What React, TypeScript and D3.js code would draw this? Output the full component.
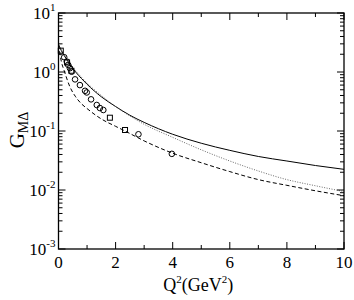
import React from "react";
import * as d3 from "d3";

const solidQ = [0, 0.1, 0.2, 0.4, 0.6, 0.8, 1.0, 1.5, 2, 2.5, 3, 4, 5, 6, 7, 8, 9, 10];
const solidG = [2.9, 2.3, 1.9, 1.35, 1.0, 0.78, 0.62, 0.38, 0.26, 0.185, 0.14, 0.088, 0.062, 0.047, 0.037, 0.031, 0.026, 0.0224];
const dottedQ = [0, 0.2, 0.4, 0.6, 0.8, 1.0, 1.5, 2, 2.5, 3, 4, 5, 6, 7, 8, 9, 10];
const dottedG = [2.9, 1.95, 1.4, 1.05, 0.82, 0.65, 0.4, 0.26, 0.18, 0.13, 0.078, 0.048, 0.031, 0.021, 0.015, 0.0118, 0.0094];
const dashedQ = [0, 0.1, 0.2, 0.4, 0.6, 0.8, 1.0, 1.5, 2, 2.33, 3, 4, 5, 6, 7, 8, 9, 10];
const dashedG = [2.9, 1.5, 1.05, 0.56, 0.38, 0.29, 0.24, 0.16, 0.12, 0.1, 0.068, 0.042, 0.029, 0.0205, 0.015, 0.012, 0.0097, 0.008];

const circleQ = [0.2, 0.29, 0.34, 0.4, 0.46, 0.58, 0.75, 0.93, 0.99, 1.14, 1.34, 1.45, 1.57, 2.8, 3.97];
const circleG = [1.78, 1.5, 1.32, 1.16, 1.01, 0.75, 0.6, 0.48, 0.45, 0.344, 0.276, 0.245, 0.227, 0.088, 0.041];
const squareQ = [0.08, 0.3, 0.45, 1.8, 2.33];
const squareG = [2.3, 1.45, 1.05, 0.168, 0.104];

const xTicks = [0, 2, 4, 6, 8, 10];
const yExps = [1, 0, -1, -2, -3];

const W = 354, H = 300;
const L = 58.5, R = 344, T = 13, B = 249;
const font = "Liberation Serif, Times New Roman, DejaVu Serif, serif";

export default function App() {
  const x = d3.scaleLinear().domain([0, 10]).range([L, R]);
  const y = d3.scaleLog().domain([1e-3, 10]).range([B, T]);
  const mk = (qs: number[], gs: number[]) =>
    d3.line<number>().x((_, i) => x(qs[i])).y((g) => y(g)).curve(d3.curveMonotoneX)(gs) || "";

  const minorY: number[] = [];
  for (let e = -3; e < 1; e++) for (let k = 2; k <= 9; k++) minorY.push(k * Math.pow(10, e));
  const minorX = d3.range(1, 10, 2);
  const ts = { fontFamily: font };

  return (
    <svg width={W} height={H} style={{ position: "absolute", left: 0, top: 0, background: "#fff" }}>
      <rect x={0} y={0} width={W} height={H} fill="#fff" />
      <defs>
        <clipPath id="clip"><rect x={L} y={T} width={R - L} height={B - T} /></clipPath>
      </defs>
      <g clipPath="url(#clip)" fill="none">
        <path d={mk(solidQ, solidG)} stroke="#000" strokeWidth={1} />
        <path d={mk(dottedQ, dottedG)} stroke="#444" strokeWidth={0.8} strokeDasharray="1,1.5" />
        <path d={mk(dashedQ, dashedG)} stroke="#000" strokeWidth={1} strokeDasharray="4,2.5" />
      </g>
      {circleQ.map((q, i) => (
        <circle key={"c" + i} cx={x(q)} cy={y(circleG[i])} r={2.8} fill="none" stroke="#000" strokeWidth={1} />
      ))}
      {squareQ.map((q, i) => (
        <rect key={"s" + i} x={x(q) - 2.5} y={y(squareG[i]) - 2.5} width={5} height={5} fill="none" stroke="#000" strokeWidth={1} />
      ))}
      <rect x={L} y={T} width={R - L} height={B - T} fill="none" stroke="#000" strokeWidth={1.3} />
      {xTicks.map((t) => (
        <g key={"xt" + t}>
          <line x1={x(t)} x2={x(t)} y1={B} y2={B - 7} stroke="#000" />
          <line x1={x(t)} x2={x(t)} y1={T} y2={T + 7} stroke="#000" />
          <text x={x(t)} y={B + 19} textAnchor="middle" style={ts} fontSize={17}>{t}</text>
        </g>
      ))}
      {minorX.map((t) => (
        <g key={"xm" + t}>
          <line x1={x(t)} x2={x(t)} y1={B} y2={B - 4} stroke="#000" />
          <line x1={x(t)} x2={x(t)} y1={T} y2={T + 4} stroke="#000" />
        </g>
      ))}
      {yExps.map((e) => {
        const v = Math.pow(10, e);
        return (
          <g key={"yt" + e}>
            <line x1={L} x2={L + 7} y1={y(v)} y2={y(v)} stroke="#000" />
            <line x1={R} x2={R - 7} y1={y(v)} y2={y(v)} stroke="#000" />
            <text x={L - 3} y={y(v) + 6} textAnchor="end" style={ts} fontSize={17}>
              10<tspan fontSize={11} dy={-8}>{e}</tspan>
            </text>
          </g>
        );
      })}
      {minorY.map((v, i) => (
        <g key={"ym" + i}>
          <line x1={L} x2={L + 4} y1={y(v)} y2={y(v)} stroke="#000" />
          <line x1={R} x2={R - 4} y1={y(v)} y2={y(v)} stroke="#000" />
        </g>
      ))}
      <text transform="translate(24,130) rotate(-90)" textAnchor="middle" style={ts} fontSize={21}>
        G<tspan fontSize={14} dy={4}>MΔ</tspan>
      </text>
      <text x={(L + R) / 2 - 3} y={291} textAnchor="middle" style={ts} fontSize={18}>
        Q<tspan fontSize={11} dy={-8}>2</tspan><tspan dy={8}>(GeV</tspan><tspan fontSize={11} dy={-8}>2</tspan><tspan dy={8}>)</tspan>
      </text>
    </svg>
  );
}
